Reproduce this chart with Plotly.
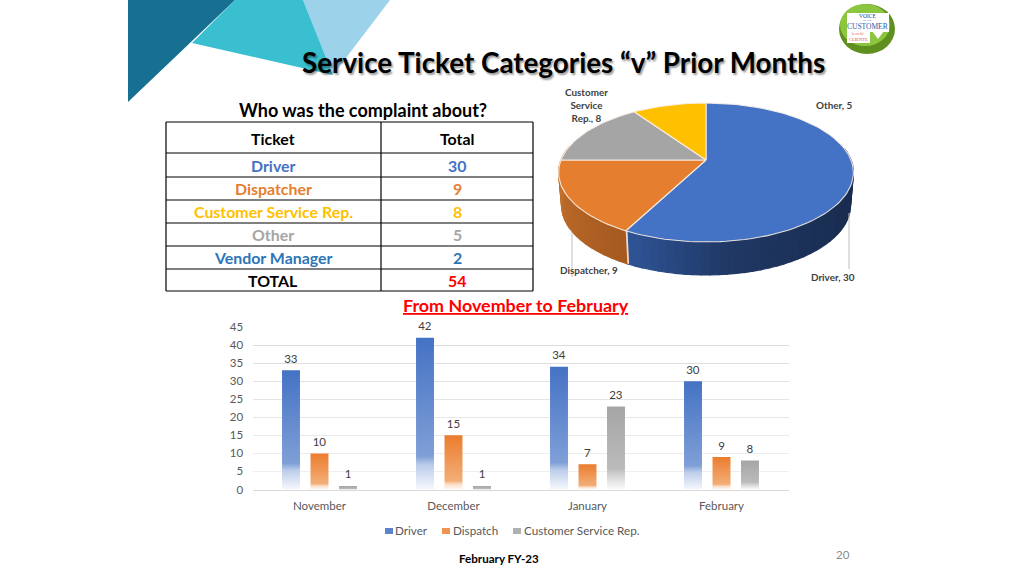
import math
import plotly.graph_objects as go

# ---- data ----
months = ["November", "December", "January", "February"]
driver = [33, 42, 34, 30]
dispatch = [10, 15, 7, 9]
csr = [1, 1, 23, 8]
series_names = ["Driver", "Dispatch", "Customer Service Rep."]

ticket_names = ["Driver", "Dispatcher", "Customer Service Rep.", "Other", "Vendor Manager", "TOTAL"]
ticket_totals = [30, 9, 8, 5, 2, 54]
ticket_colors = ["#4472C4", "#E67E30", "#FFC000", "#A5A5A5", "#2E75B6", "#000000"]
total_colors = ["#4472C4", "#E67E30", "#FFC000", "#A5A5A5", "#2E75B6", "#FF0000"]

pie_names = ["Driver", "Dispatcher", "Customer<br>Service<br>Rep.", "Other"]
pie_values = [30, 9, 8, 5]
pie_colors = ["#4472C4", "#E67E30", "#A5A5A5", "#FFC000"]

FONT = "Lato, 'Open Sans', sans-serif"
fig = go.Figure()

# ---- pixel-space axes for decoration and the perspective pie ----
hidden = dict(visible=False, showgrid=False, zeroline=False, fixedrange=True)
CX, CY, RX, RY, K, DEPTH = 706, 160, 145, 67.2, 0.18, 33


def rim(theta_deg, drop=0):
    t = math.radians(theta_deg)
    u, v = math.sin(t), math.cos(t)
    w = 1 + K * v
    x = CX + RX * u / w
    y = CY - RY * v / w
    if drop:
        x = CX + (x - CX) * 0.98
        y = y + drop
    return x, y


def mix(a, b, f):
    f = max(0, min(1, f))
    ca = [int(a[i:i + 2], 16) for i in (1, 3, 5)]
    cb = [int(b[i:i + 2], 16) for i in (1, 3, 5)]
    return "rgb(%d,%d,%d)" % tuple(round(p + (q - p) * f) for p, q in zip(ca, cb))


def band(t0, t1, color):
    a, b = rim(t0), rim(t1)
    c, d = rim(t1, DEPTH), rim(t0, DEPTH)
    fig.add_trace(go.Scatter(x=[a[0], b[0], c[0], d[0], a[0]], y=[a[1], b[1], c[1], d[1], a[1]],
                             mode="lines", fill="toself", fillcolor=color,
                             line=dict(color=color, width=1.2), xaxis="x2", yaxis="y2",
                             hoverinfo="skip", showlegend=False))


pie_total = sum(pie_values)
bounds = [0]
for v in pie_values:
    bounds.append(bounds[-1] + v / pie_total * 360)

# sides of the pie, driver then dispatcher
N = 44
t_start, t_mid, t_end = 80, bounds[1], bounds[2] + 12
for i in range(N):
    t0 = t_start + (t_mid - t_start) * i / N
    t1 = t_start + (t_mid - t_start) * (i + 1) / N
    xm = rim((t0 + t1) / 2)[0]
    if xm > 730:
        col = mix("#1F3864", "#1A2D50", (xm - 730) / 120)
    else:
        col = mix("#2E5394", "#1F3864", (xm - 630) / 100)
    band(t0, t1, col)
N2 = 22
for i in range(N2):
    t0 = t_mid + (t_end - t_mid) * i / N2
    t1 = t_mid + (t_end - t_mid) * (i + 1) / N2
    band(t0, t1, mix("#A65A20", "#CB7630", i / (N2 - 1)))
# slit between the two side faces
sa, sb = rim(t_mid), rim(t_mid, DEPTH)
fig.add_trace(go.Scatter(x=[sa[0] + 0.8, sb[0] + 0.8], y=[sa[1], sb[1]], mode="lines",
                         line=dict(color="#F3D9C3", width=1.8), xaxis="x2", yaxis="y2",
                         hoverinfo="skip", showlegend=False))

# top slices
for i, c in enumerate(pie_colors):
    steps = max(4, int((bounds[i + 1] - bounds[i]) / 2))
    pts = [rim(bounds[i] + (bounds[i + 1] - bounds[i]) * j / steps) for j in range(steps + 1)]
    xs = [CX] + [p[0] for p in pts] + [CX]
    ys = [CY] + [p[1] for p in pts] + [CY]
    fig.add_trace(go.Scatter(x=xs, y=ys, mode="lines", fill="toself", fillcolor=c,
                             line=dict(color="rgba(250,240,230,0.9)", width=1.1),
                             xaxis="x2", yaxis="y2", hoverinfo="skip", showlegend=False))

# ---- bars ----
for name, vals, col in zip(series_names, [driver, dispatch, csr], ["#4472C4", "#ED7D31", "#A5A5A5"]):
    fig.add_trace(go.Bar(name=name, x=months, y=vals, text=vals, textposition="outside",
                         cliponaxis=False, marker=dict(color=col, line=dict(width=0)),
                         textfont=dict(family=FONT, size=11.5, color="#404040"), showlegend=False))


def note(x, y, text, size, color="#000000", anchor="center", bold=False, family=FONT, **font):
    t = "<b>%s</b>" % text if bold else text
    fig.add_annotation(x=x, y=y, xref="x2", yref="y2", text=t, showarrow=False, xanchor=anchor,
                       yanchor="middle", align="center" if anchor == "center" else anchor,
                       font=dict(family=family, size=size, color=color, **font),
                       borderpad=0, borderwidth=0)


note(563, 62, "Service Ticket Categories “v” Prior Months", 27.8, bold=True,
     shadow="1.5px 1.5px 2px rgba(0,0,0,0.4)")
note(362.5, 110, "Who was the complaint about?", 18, bold=True)
note(516, 305, "<u>From November to February</u>", 17.9, "#FF0000", bold=True)
note(499, 558, "February FY-23", 11.6, bold=True)
note(843, 554.5, "20", 11.5, "#8B8B8B")

shapes = []

# ---- table ----
row_edges = [122, 153, 177, 200, 223, 246, 269, 291]
col_edges = [166, 381, 533]
for y in row_edges:
    shapes.append(dict(type="line", xref="x2", yref="y2", x0=col_edges[0], x1=col_edges[-1], y0=y, y1=y,
                       line=dict(color="black", width=1.2)))
for x in col_edges:
    shapes.append(dict(type="line", xref="x2", yref="y2", x0=x, x1=x, y0=row_edges[0], y1=row_edges[-1],
                       line=dict(color="black", width=1.2)))
col_mid = [273, 457]
TBL = 15.9
note(col_mid[0], 138, "Ticket", TBL, bold=True)
note(col_mid[1], 138, "Total", TBL, bold=True)
for i, (nm, tot, c1, c2) in enumerate(zip(ticket_names, ticket_totals, ticket_colors, total_colors)):
    ym = (row_edges[i + 1] + row_edges[i + 2]) / 2
    note(col_mid[0], ym, nm, TBL, c1, bold=True)
    note(col_mid[1], ym, str(tot), TBL, c2, bold=True)

# pie labels
label_pos = [(855, 277, "right"), (618, 270, "right"), (586, 104.5, "center"), (852, 105, "right")]
for nm, v, (lx, ly, an) in zip(pie_names, pie_values, label_pos):
    note(lx, ly, "%s, %d" % (nm, v), 9.9, "#404040", anchor=an, bold=True)

# manual legend
leg_x = [(385, 395), (442, 453), (513, 524)]
leg_col = ["#5B84CC", "#EF9350", "#B0B0B0"]
for nm, (sx, tx), c in zip(series_names, leg_x, leg_col):
    shapes.append(dict(type="rect", xref="x2", yref="y2", x0=sx, x1=sx + 8, y0=528, y1=534,
                       fillcolor=c, line=dict(width=0)))
    note(tx, 530, nm, 11.7, "#595959", anchor="left")


def poly(pts, color):
    d = "M" + " L".join("%g,%g" % p for p in pts) + " Z"
    return dict(type="path", xref="x2", yref="y2", path=d, fillcolor=color, line=dict(width=0), layer="below")


# banner triangles
shapes += [
    poly([(303, 0), (390, 0), (333, 75)], "#9DD3EA"),
    poly([(235, 0), (303, 0), (333, 75), (192, 43)], "#3ABFD0"),
    poly([(128, 0), (235, 0), (128, 102)], "#176F91"),
]
# leader lines
for x, y0, y1 in [(572, 232, 277), (849, 213, 269)]:
    shapes.append(dict(type="line", xref="x2", yref="y2", x0=x, x1=x, y0=y0, y1=y1,
                       line=dict(color="#BFBFBF", width=1)))
# logo
shapes += [
    dict(type="circle", xref="x2", yref="y2", x0=839, x1=895, y0=4, y1=54, fillcolor="#5F8F1F", line=dict(width=0)),
    dict(type="circle", xref="x2", yref="y2", x0=840, x1=890, y0=4, y1=46, fillcolor="#8CC63F", line=dict(width=0)),
    dict(type="rect", xref="x2", yref="y2", x0=847, x1=889, y0=13, y1=32, fillcolor="white", line=dict(width=0)),
    dict(type="path", xref="x2", yref="y2", path="M872,31 L878,39 L884,31 Z", fillcolor="white", line=dict(width=0)),
    dict(type="rect", xref="x2", yref="y2", x0=847, x1=870, y0=31, y1=43, fillcolor="white", line=dict(width=0)),
]
serif = "'Liberation Serif', serif"
note(867, 16, "VOICE", 5.5, "#1F3F77", family=serif)
note(867, 20, "OF THE", 2.5, "#1F3F77", family=serif)
note(867, 26, "CUSTOMER", 7.5, "#2A5CA8", family=serif)
note(858, 34, "la voz del", 3, "#D9534F", family=serif)
note(858, 39.5, "CLIENTE", 4.5, "#D9534F", family=serif)

fig.update_layout(
    width=1024, height=576, margin=dict(l=0, r=0, t=0, b=0, autoexpand=False), autosize=False,
    paper_bgcolor="white", plot_bgcolor="rgba(0,0,0,0)", showlegend=False,
    font=dict(family=FONT), barmode="group", bargap=0.362, bargroupgap=0.37,
    shapes=shapes,
    xaxis=dict(domain=[252.5 / 1024, 788.5 / 1024], type="category", anchor="y", showgrid=False,
               showline=True, linecolor="#D9D9D9", linewidth=1, ticks="outside", ticklen=6,
               tickcolor="rgba(0,0,0,0)", tickfont=dict(family=FONT, size=11.5, color="#595959"),
               fixedrange=True, automargin=False),
    yaxis=dict(domain=[(576 - 489.5) / 576, (576 - 327) / 576], anchor="x", range=[0, 45], dtick=5,
               gridcolor="#E2E2E2", gridwidth=1, zeroline=False, ticks="outside", ticklen=6,
               tickcolor="rgba(0,0,0,0)", tickfont=dict(family=FONT, size=11.5, color="#595959"),
               fixedrange=True, automargin=False),
    xaxis2=dict(domain=[0, 1], range=[0, 1024], anchor="y2", **hidden),
    yaxis2=dict(domain=[0, 1], range=[576, 0], anchor="x2", **hidden),
)

post = """
document.documentElement.style.overflow='hidden';
document.body.style.margin='0';
var gd=document.getElementById('{plot_id}');
var svg=gd.querySelector('.main-svg');
var NS='http://www.w3.org/2000/svg';
var defs=document.createElementNS(NS,'defs');
function grad(id,stops){
  var g=document.createElementNS(NS,'linearGradient');
  g.setAttribute('id',id);g.setAttribute('x1','0');g.setAttribute('y1','0');g.setAttribute('x2','0');g.setAttribute('y2','1');
  stops.forEach(function(s){var e=document.createElementNS(NS,'stop');e.setAttribute('offset',s[0]);e.setAttribute('stop-color',s[1]);g.appendChild(e);});
  defs.appendChild(g);
}
grad('gb0',[[0,'#4472C4'],[0.78,'#7F9FD7'],[0.84,'#BCCDEA'],[1,'#F6F8FD']]);
grad('gb1',[[0,'#EB7C2E'],[0.84,'#F3AE77'],[0.9,'#FADCC5'],[1,'#FFFAF6']]);
grad('gb2',[[0,'#A5A5A5'],[0.75,'#BBBBBB'],[0.85,'#D8D8D8'],[1,'#FBFBFB']]);
grad('gbs',[[0,'#A5A5A5'],[1,'#BDBDBD']]);
svg.insertBefore(defs,svg.firstChild);
gd.querySelectorAll('.barlayer .trace').forEach(function(tr,i){
  tr.querySelectorAll('.point path').forEach(function(p){
    var h=p.getBBox().height;
    p.style.fill=(i==2&&h<8)?'url(#gbs)':'url(#gb'+i+')';
  });
  tr.querySelectorAll('text.bartext').forEach(function(t){
    t.setAttribute('transform','translate(0,-2.5) '+(t.getAttribute('transform')||''));
  });
});
var lines=gd.querySelectorAll('.gridlayer .y path');
lines.forEach(function(p){
  var r=p.getBoundingClientRect();
  var f=Math.max(0,Math.min(1,(r.top-327)/162));
  var c=Math.round(217+f*25);
  p.style.stroke='rgb('+c+','+c+','+c+')';
});
"""
fig.write_html("out.html", post_script=post, config=dict(displayModeBar=False))
